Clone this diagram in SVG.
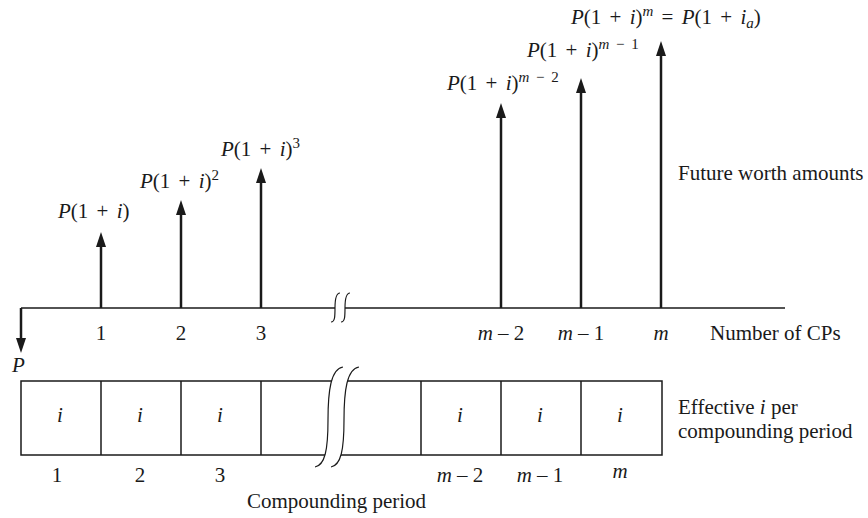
<svg xmlns="http://www.w3.org/2000/svg" width="868" height="518" viewBox="0 0 868 518">
<defs>
<style>
text{font-family:"Liberation Serif","Times New Roman",serif;font-size:21px;fill:#1a1a1a}
.it{font-style:italic}
.sm{font-size:15px}
.math{word-spacing:3px}
.mid{text-anchor:middle}
.ax{stroke:#1a1a1a;stroke-width:1.5;fill:none}
.arr{stroke:#1a1a1a;stroke-width:2.5;fill:none;marker-end:url(#ah)}
.box{stroke:#1a1a1a;stroke-width:1.5;fill:#fff}
.brk{stroke:#1a1a1a;stroke-width:1.2;fill:none}
</style>
<marker id="ah" viewBox="0 0 15 10" refX="3" refY="5" markerWidth="15" markerHeight="10" markerUnits="userSpaceOnUse" orient="auto">
<path d="M0,0 L15,5 L0,10 z" fill="#1a1a1a"/>
</marker>
</defs>
<rect width="868" height="518" fill="#fff"/>

<g id="time-axis">
<line class="ax" x1="21" y1="308" x2="785" y2="308"/>
<path d="M331,322 C335,322 335,316 335,308 C335,300 336,293 340,293 L350,293 C346,293 345,300 345,308 C345,316 345,322 341,322 Z" fill="#fff"/>
<path class="brk" d="M331,322 C335,322 335,316 335,308 C335,300 336,293 340,293"/>
<path class="brk" d="M341,322 C345,322 345,316 345,308 C345,300 346,293 350,293"/>
<text class="mid" x="101" y="340">1</text>
<text class="mid" x="181" y="340">2</text>
<text class="mid" x="261" y="340">3</text>
<text class="mid" x="501" y="340"><tspan class="it">m</tspan> – 2</text>
<text class="mid" x="581" y="340"><tspan class="it">m</tspan> – 1</text>
<text class="mid it" x="661" y="340">m</text>
<text x="710" y="340">Number of CPs</text>
</g>

<g id="connectors">
<line class="arr" x1="21" y1="308" x2="21" y2="341"/>
<line class="arr" x1="101" y1="308" x2="101" y2="244"/>
<line class="arr" x1="181" y1="308" x2="181" y2="212"/>
<line class="arr" x1="261" y1="308" x2="261" y2="180"/>
<line class="arr" x1="501" y1="308" x2="501" y2="115"/>
<line class="arr" x1="581" y1="308" x2="581" y2="90"/>
<line class="arr" x1="661" y1="308" x2="661" y2="53"/>
</g>

<g id="present">
<text class="it" x="12" y="372">P</text>
</g>

<g id="fw-1"><text class="math" x="58" y="218"><tspan class="it">P</tspan>(1 + <tspan class="it">i</tspan>)</text></g>
<g id="fw-2"><text class="math" x="140" y="188"><tspan class="it">P</tspan>(1 + <tspan class="it">i</tspan>)<tspan class="sm" dy="-8">2</tspan></text></g>
<g id="fw-3"><text class="math" x="221" y="156"><tspan class="it">P</tspan>(1 + <tspan class="it">i</tspan>)<tspan class="sm" dy="-8">3</tspan></text></g>
<g id="fw-m2"><text class="math" x="447" y="90"><tspan class="it">P</tspan>(1 + <tspan class="it">i</tspan>)<tspan class="sm" dy="-8"><tspan class="it">m</tspan> − 2</tspan></text></g>
<g id="fw-m1"><text class="math" x="527" y="57"><tspan class="it">P</tspan>(1 + <tspan class="it">i</tspan>)<tspan class="sm" dy="-8"><tspan class="it">m</tspan> − 1</tspan></text></g>
<g id="fw-m"><text class="math" x="571" y="24"><tspan class="it">P</tspan>(1 + <tspan class="it">i</tspan>)<tspan class="sm it" dy="-8">m</tspan><tspan dy="8"> = </tspan><tspan class="it">P</tspan>(1 + <tspan class="it">i</tspan><tspan class="sm it" dy="4">a</tspan><tspan dy="-4">)</tspan></text></g>
<g id="fw-caption"><text x="678" y="180">Future worth amounts</text></g>

<g id="periods">
<rect class="box" x="21" y="381" width="641" height="74"/>
<line class="ax" x1="101" y1="381" x2="101" y2="455"/>
<line class="ax" x1="181" y1="381" x2="181" y2="455"/>
<line class="ax" x1="261" y1="381" x2="261" y2="455"/>
<line class="ax" x1="421" y1="381" x2="421" y2="455"/>
<line class="ax" x1="501" y1="381" x2="501" y2="455"/>
<line class="ax" x1="581" y1="381" x2="581" y2="455"/>
<path d="M315,467 C325,465 328,450 328,420 C328,390 331,369 343,367 L359,367 C347,369 344,390 344,420 C344,450 341,465 331,467 Z" fill="#fff"/>
<path class="brk" d="M315,467 C325,465 328,450 328,420 C328,390 331,369 343,367"/>
<path class="brk" d="M331,467 C341,465 344,450 344,420 C344,390 347,369 359,367"/>
<text class="mid it" x="60" y="422">i</text>
<text class="mid it" x="140" y="422">i</text>
<text class="mid it" x="220" y="422">i</text>
<text class="mid it" x="460" y="422">i</text>
<text class="mid it" x="540" y="422">i</text>
<text class="mid it" x="620" y="422">i</text>
<text class="mid" x="57" y="482">1</text>
<text class="mid" x="140" y="482">2</text>
<text class="mid" x="220" y="482">3</text>
<text class="mid" x="460" y="482"><tspan class="it">m</tspan> – 2</text>
<text class="mid" x="540" y="482"><tspan class="it">m</tspan> – 1</text>
<text class="mid it" x="620" y="478">m</text>
<text x="678" y="414">Effective <tspan class="it">i</tspan> per</text>
<text x="678" y="438">compounding period</text>
<text x="247" y="508">Compounding period</text>
</g>
</svg>
